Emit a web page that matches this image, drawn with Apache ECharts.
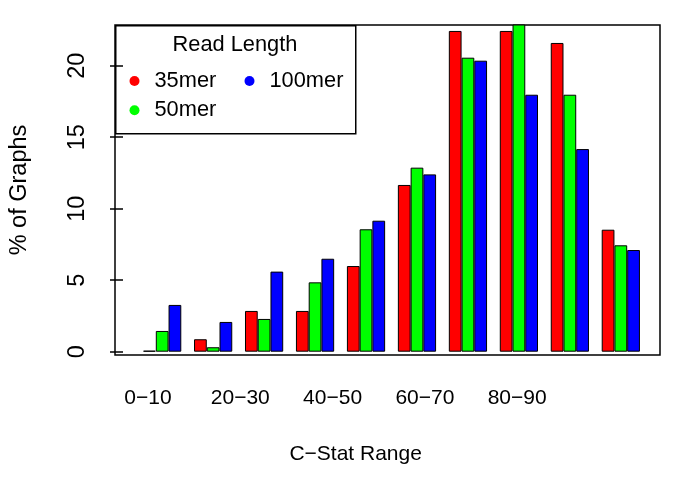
<!DOCTYPE html>
<html>
<head>
<meta charset="utf-8">
<script src="https://cdn.jsdelivr.net/npm/echarts@6/dist/echarts.min.js"></script>
<style>html,body{margin:0;padding:0;background:#fff}#c{width:685px;height:484px}</style>
</head>
<body>
<div id="c"></div>
<script>
var categories = ['0\u221210','10\u221220','20\u221230','30\u221240','40\u221250','50\u221260','60\u221270','70\u221280','80\u221290','90\u2212100'];
var seriesNames = ['35mer','50mer','100mer'];
var s35mer  = [0, 0.87, 2.85, 2.85, 5.99, 11.66, 22.43, 22.43, 21.59, 8.53];
var s50mer  = [1.45, 0.31, 2.29, 4.85, 8.56, 12.87, 20.56, 23.5, 17.97, 7.44];
var s100mer = [3.27, 2.08, 5.6, 6.5, 9.16, 12.4, 20.35, 17.97, 14.17, 7.11];
var yTicks = [0, 5, 10, 15, 20];

var FONT = 'Liberation Sans';
var chart = echarts.init(document.getElementById('c'), null, {renderer: 'canvas'});
var colors = ['#ff0000', '#00ff00', '#0000ff'];
var values = [s35mer, s50mer, s100mer];

var legendCommon = {
  orient: 'vertical', top: 70, padding: 0,
  itemWidth: 30, itemHeight: 10, itemGap: 7.3, icon: 'circle',
  itemStyle: {borderWidth: 0},
  textStyle: {fontFamily: FONT, fontSize: 21.8, lineHeight: 20, color: '#000'}
};

chart.setOption({
  animation: false,
  backgroundColor: '#ffffff',
  textStyle: {fontFamily: FONT, color: '#000'},
  title: {
    text: 'Read Length', left: 235, top: 34, textAlign: 'center', padding: 0,
    textStyle: {fontFamily: FONT, fontSize: 21.8, fontWeight: 'normal', color: '#000'}
  },
  legend: [
    Object.assign({data: ['35mer', '50mer'], left: 129.5}, legendCommon),
    Object.assign({data: ['100mer'], left: 244.5}, legendCommon)
  ],
  graphic: [{
    type: 'rect', left: 115, top: 25, z: 0,
    shape: {width: 240, height: 108},
    style: {fill: '#fff', stroke: '#000', lineWidth: 1.5}
  }],
  grid: [
    {left: 115, right: 25, top: 25, bottom: 129, show: true, borderColor: '#000', borderWidth: 1.5, backgroundColor: 'transparent'},
    {left: 128.7, right: 38.7, top: 25, bottom: 129},
    {left: 124.9, right: 98.6, top: 25, bottom: 129}
  ],
  xAxis: [
    {gridIndex: 0, type: 'value', show: false},
    {gridIndex: 1, type: 'category', data: categories, show: false},
    {gridIndex: 2, type: 'category', data: categories,
     axisLine: {show: false}, axisTick: {show: false},
     axisLabel: {interval: 1, margin: 33, fontFamily: FONT, fontSize: 21, color: '#000'},
     name: 'C\u2212Stat Range', nameLocation: 'middle', nameGap: 89,
     nameTextStyle: {fontFamily: FONT, fontSize: 21, color: '#000'}}
  ],
  yAxis: [
    {gridIndex: 0, type: 'value', show: false},
    {gridIndex: 1, type: 'value', min: -0.231, max: 22.846, offset: 13.7,
     splitLine: {show: false}, axisLine: {show: false},
     axisTick: {show: true, customValues: yTicks, length: 13, lineStyle: {color: '#000', width: 1.5}},
     axisLabel: {customValues: yTicks, rotate: 90, margin: 33, fontFamily: FONT, fontSize: 23.5, color: '#000'},
     name: '% of Graphs', nameLocation: 'middle', nameRotate: 90, nameGap: 91,
     nameTextStyle: {fontFamily: FONT, fontSize: 23.5, color: '#000'}},
    {gridIndex: 2, type: 'value', show: false}
  ],
  series: seriesNames.map(function (n, i) {
    return {
      name: n, type: 'bar', xAxisIndex: 1, yAxisIndex: 1,
      data: values[i], barGap: '0%', barCategoryGap: '25%', barMinHeight: 1,
      clip: true,
      itemStyle: {color: colors[i], borderColor: '#000', borderWidth: 1}
    };
  })
});
</script>
</body>
</html>
